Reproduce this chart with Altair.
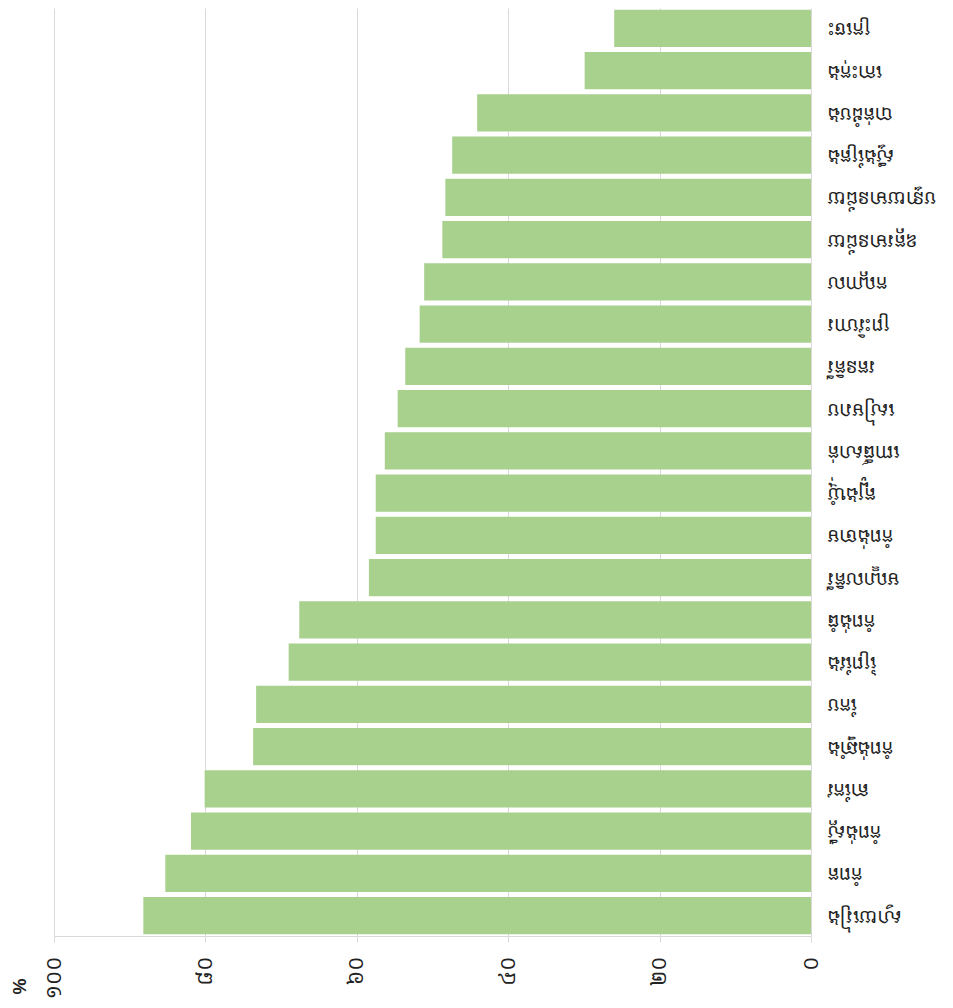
import altair as alt
import pandas as pd

provinces = ["ក្រចេះ", "កោះកុង", "បាត់ដំបង", "ស្ទឹងត្រែង", "បន្ទាយមានជ័យ", "ឧត្ដរមានជ័យ",
             "កណ្ដាល", "ព្រះវិហារ", "រតនគិរី", "សៀមរាប", "ពោធិ៍សាត់", "ត្បូងឃ្មុំ",
             "កំពង់ចាម", "មណ្ឌលគិរី", "កំពង់ធំ", "ព្រៃវែង", "កែប", "កំពង់ឆ្នាំង",
             "តាកែវ", "កំពង់ស្ពឺ", "កំពត", "ស្វាយរៀង"]
values = [26.0, 29.9, 44.1, 47.4, 48.3, 48.7, 51.1, 51.7, 53.6, 54.6, 56.3, 57.5,
          57.5, 58.4, 67.6, 69.0, 73.3, 73.7, 80.1, 81.9, 85.3, 88.2]
tick_values = [0, 20, 40, 60, 80, 100]
tick_labels = ["០", "២០", "៤០", "៦០", "៨០", "១០០"]

df = pd.DataFrame({"province": provinces, "value": values})

label_expr = "'" + tick_labels[-1] + "'"
for v, l in reversed(list(zip(tick_values[:-1], tick_labels[:-1]))):
    label_expr = f"datum.value == {v} ? '{l}' : ({label_expr})"

khmer_font = "Khmer OS, Khmer OS System, Noto Serif Khmer, Noto Sans Khmer, sans-serif"

chart = alt.Chart(df).mark_bar(color="#A9D18E").encode(
    x=alt.X("value:Q",
            scale=alt.Scale(domain=[0, 100], reverse=True, nice=False),
            axis=alt.Axis(values=tick_values, labelExpr=label_expr, labelAngle=270,
                          labelFont=khmer_font, labelFontSize=20, labelColor="#222222",
                          labelPadding=14, tickSize=6, tickColor="#D9D9D9",
                          domainColor="#D9D9D9", gridColor="#D9D9D9", grid=True,
                          title="%", titleAngle=270, titleX=-34, titleY=50,
                          titleAlign="center", titleBaseline="middle",
                          titleFont="Liberation Sans", titleFontSize=18,
                          titleFontWeight="bold", titleColor="#222222")),
    y=alt.Y("province:N", sort=provinces,
            scale=alt.Scale(paddingInner=0.12, paddingOuter=0.04),
            axis=alt.Axis(orient="right", title=None, ticks=False, domain=False,
                          labelAngle=180, labelAlign="right", labelBaseline="middle",
                          labelFont=khmer_font, labelFontSize=18, labelColor="#222222",
                          labelPadding=16, labelLimit=0)),
).properties(
    width=757, height=928,
    autosize=alt.AutoSizeParams(type="none"),
    padding={"left": 46, "top": 0, "right": 134, "bottom": 70},
).configure_view(stroke=None)

chart.save("out.html", embed_options={"renderer": "svg", "actions": False})
